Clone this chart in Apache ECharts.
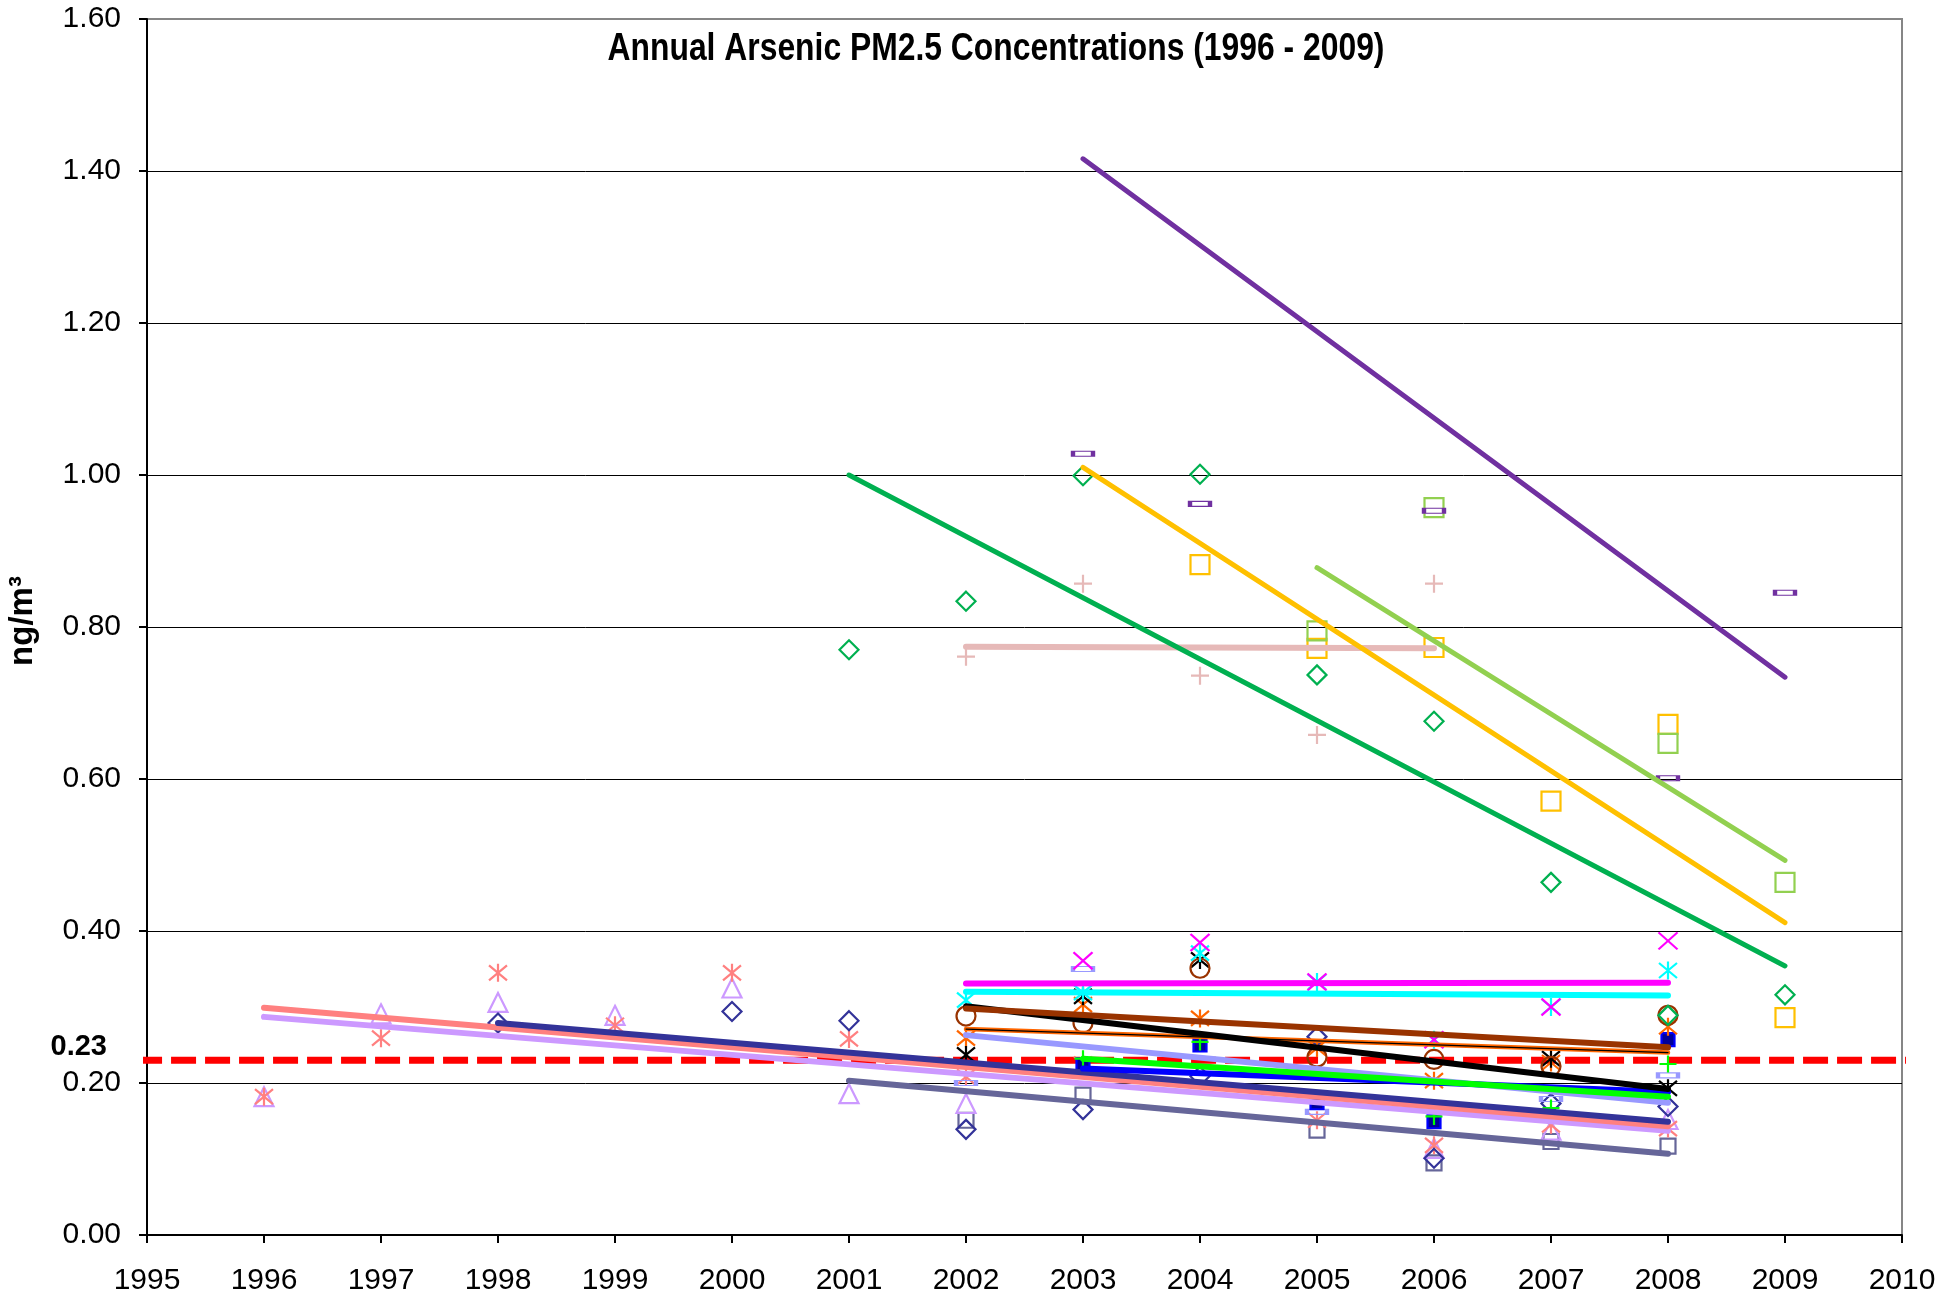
<!DOCTYPE html>
<html>
<head>
<meta charset="utf-8">
<script src="https://cdn.jsdelivr.net/npm/echarts@6/dist/echarts.min.js"></script>
<style>
html, body { margin: 0; padding: 0; background: #fff; }
#chart { width: 1956px; height: 1296px; }
</style>
</head>
<body>
<div id="chart"></div>
<script>
// axis ranges
var xRange = [1995, 2010];
var yRange = [0, 1.6];
var yStep = 0.2;
var limitValue = 0.23;

// one slot per year, null = no measurement
var years = [1996, 1997, 1998, 1999, 2000, 2001, 2002, 2003, 2004, 2005, 2006, 2007, 2008, 2009];

var salmonVals = [0.182, 0.259, 0.345, 0.276, 0.345, 0.258, 0.208, 0.225, null, 0.151, 0.118, 0.145, 0.140, null];
var lilacVals  = [0.182, 0.291, 0.306, 0.289, 0.325, 0.186, 0.173, null, null, null, 0.114, 0.138, 0.152, null];
var navyVals   = [null, null, 0.279, null, 0.294, 0.282, 0.139, 0.165, 0.209, 0.261, 0.101, 0.173, 0.169, null];
var slateVals  = [null, null, null, null, null, null, 0.151, 0.184, null, 0.138, 0.095, 0.123, 0.117, null];
var blueVals   = [null, null, null, null, null, null, null, 0.224, 0.250, 0.174, 0.149, null, 0.257, null];
var greenVals  = [null, null, null, null, null, null, null, 0.232, 0.254, null, 0.156, 0.167, 0.225, null];
var lavVals    = [null, null, null, null, null, null, 0.200, 0.350, null, 0.162, null, 0.179, 0.210, null];
var blackVals  = [null, null, null, null, null, null, 0.237, 0.314, 0.362, null, null, 0.232, 0.193, null];
var brownVals  = [null, null, null, null, null, null, 0.288, 0.279, 0.351, 0.234, 0.231, 0.222, 0.289, null];
var orangeVals = [null, null, null, null, null, null, 0.259, 0.303, 0.285, 0.246, 0.203, 0.227, 0.274, null];
var cyanVals   = [null, null, null, null, null, null, 0.309, 0.319, 0.371, 0.333, 0.257, 0.300, 0.348, null];
var magVals    = [null, null, null, null, null, null, null, 0.361, 0.385, 0.333, 0.257, 0.300, 0.387, null];
var dgreenVals = [null, null, null, null, null, 0.770, 0.834, 0.999, 1.001, 0.737, 0.676, 0.464, 0.289, 0.316];
var goldVals   = [null, null, null, null, null, null, null, null, 0.882, 0.772, 0.773, 0.571, 0.672, 0.286];
var limeVals   = [null, null, null, null, null, null, null, null, null, 0.795, 0.957, null, 0.647, 0.464];
var pinkVals   = [null, null, null, null, null, null, 0.761, 0.857, 0.736, 0.658, 0.857, null, null, null];
var purpleVals = [null, null, null, null, null, null, null, 1.028, 0.962, null, 0.953, null, 0.601, 0.845];

// linear trend lines: [start year, value], [end year, value]
var salmonTrend = [[1996, 0.299], [2008, 0.143]];
var lilacTrend  = [[1996, 0.287], [2008, 0.137]];
var navyTrend   = [[1998, 0.279], [2008, 0.149]];
var slateTrend  = [[2001, 0.203], [2008, 0.107]];
var blueTrend   = [[2003, 0.219], [2008, 0.188]];
var greenTrend  = [[2003, 0.232], [2008, 0.182]];
var lavTrend    = [[2002, 0.263], [2008, 0.174]];
var blackTrend  = [[2002, 0.301], [2008, 0.192]];
var brownTrend  = [[2002, 0.298], [2008, 0.247]];
var orangeTrend = [[2002, 0.271], [2008, 0.240]];
var cyanTrend   = [[2002, 0.320], [2008, 0.315]];
var magTrend    = [[2002, 0.331], [2008, 0.332]];
var pinkTrend   = [[2002, 0.774], [2006, 0.772]];
var dgreenTrend = [[2001, 1.000], [2009, 0.354]];
var limeTrend   = [[2005, 0.878], [2009, 0.493]];
var goldTrend   = [[2003, 1.010], [2009, 0.411]];
var purpleTrend = [[2003, 1.416], [2009, 0.734]];

// marker shapes (Excel style)
var SYM_X = 'path://M0,0L10,10M10,0L0,10';
var SYM_STAR = 'path://M0,0L10,10M10,0L0,10M5,-1L5,11';
var SYM_PLUS = 'path://M5,0L5,10M0,5L10,5';

function pts(vals) {
    var out = [];
    for (var i = 0; i < years.length; i++) {
        if (vals[i] != null) out.push([years[i], vals[i]]);
    }
    return out;
}

function markers(vals, symbol, size, color, fill) {
    return {
        type: 'scatter', z: 3, silent: true,
        symbol: symbol, symbolSize: size,
        data: pts(vals),
        itemStyle: { color: fill || 'rgba(0,0,0,0)', borderColor: color, borderWidth: 2.2, opacity: 1 }
    };
}

function trend(seg, color, width) {
    return {
        type: 'line', z: 4, silent: true, symbol: 'none',
        data: seg,
        lineStyle: { color: color, width: width || 6, cap: 'round' }
    };
}

var font = '"Liberation Sans", Arial, sans-serif';

var series = [
    // limit line
    {
        type: 'line', z: 2, silent: true, symbol: 'none', clip: false,
        data: [[xRange[0] - 0.085, limitValue], [xRange[1] + 0.085, limitValue]],
        lineStyle: { color: '#ff0000', width: 7, type: [25, 9] }
    },
    markers(slateVals, 'rect', 15, '#666699'),
    markers(lilacVals, 'triangle', 19, '#CC99FF'),
    markers(salmonVals, SYM_STAR, 18, '#FF8080'),
    markers(navyVals, 'diamond', 19, '#333399'),
    markers(lavVals, 'rect', [20, 5], '#9999FF'),
    markers(blueVals, 'rect', 13, '#0000FF', '#000099'),
    markers(greenVals, SYM_PLUS, 17, '#00FF00'),
    markers(orangeVals, SYM_STAR, 18, '#FF6600'),
    markers(blackVals, SYM_STAR, 18, '#000000'),
    markers(brownVals, 'circle', 19, '#993300'),
    markers(cyanVals, SYM_STAR, 18, '#00FFFF'),
    markers(magVals, SYM_X, [19, 17], '#FF00FF'),
    markers(pinkVals, SYM_PLUS, 18, '#E6B9B8'),
    markers(dgreenVals, 'diamond', 19, '#00B050'),
    markers(goldVals, 'rect', 19, '#FFC000'),
    markers(limeVals, 'rect', 19, '#92D050'),
    markers(purpleVals, 'rect', [20, 5], '#7030A0'),

    trend(slateTrend, '#666699'),
    trend(lilacTrend, '#CC99FF'),
    trend(salmonTrend, '#FF8080'),
    trend(navyTrend, '#333399'),
    trend(lavTrend, '#9999FF'),
    trend(blueTrend, '#0000FF'),
    trend(greenTrend, '#00FF00'),
    trend(orangeTrend, '#FF6600', 4.5),
    trend(orangeTrend, '#000000', 1.3),
    trend(blackTrend, '#000000'),
    trend(brownTrend, '#993300'),
    trend(cyanTrend, '#00FFFF'),
    trend(magTrend, '#FF00FF'),
    trend(pinkTrend, '#E6B9B8'),
    trend(dgreenTrend, '#00B050', 5),
    trend(limeTrend, '#92D050', 5),
    trend(goldTrend, '#FFC000', 5),
    trend(purpleTrend, '#7030A0', 5)
];

var chart = echarts.init(document.getElementById('chart'));
chart.setOption({
    animation: false,
    backgroundColor: '#ffffff',
    grid: {
        left: 147, right: 54, top: 19, bottom: 61,
        containLabel: false, outerBoundsMode: 'none',
        show: true, borderColor: '#868686', borderWidth: 2
    },
    xAxis: {
        type: 'value', min: xRange[0], max: xRange[1], interval: 1,
        axisLine: { show: true, onZero: false, lineStyle: { color: '#000', width: 2 } },
        axisTick: { show: true, length: 8, lineStyle: { color: '#000', width: 2 } },
        axisLabel: { color: '#000', fontSize: 30, fontFamily: font, margin: 31, formatter: function (v) { return String(v); } },
        splitLine: { show: false }
    },
    yAxis: {
        type: 'value', min: yRange[0], max: yRange[1], interval: yStep,
        name: 'ng/m³', nameLocation: 'middle', nameRotate: 90, nameGap: 108,
        nameTextStyle: { color: '#000', fontSize: 33, fontWeight: 'bold', fontFamily: font, padding: [0, 0, 0, 12] },
        axisLine: { show: true, lineStyle: { color: '#000', width: 2 } },
        axisTick: { show: true, length: 8, lineStyle: { color: '#000', width: 2 } },
        axisLabel: { color: '#000', fontSize: 30, fontFamily: font, margin: 26, formatter: function (v) { return v.toFixed(2); } },
        splitLine: { show: true, showMinLine: false, showMaxLine: false, lineStyle: { color: '#000', width: 1 } }
    },
    graphic: [
        {
            type: 'text', x: 996, y: 50, z: 10, scaleX: 0.838,
            style: {
                text: 'Annual Arsenic PM2.5 Concentrations (1996 - 2009)',
                fill: '#000', fontSize: 38, fontWeight: 'bold', fontFamily: font,
                align: 'center', verticalAlign: 'middle', textAlign: 'center', textVerticalAlign: 'middle'
            }
        },
        {
            type: 'text', x: 107, y: 1047, z: 10,
            style: {
                text: limitValue.toFixed(2),
                fill: '#000', fontSize: 29, fontWeight: 'bold', fontFamily: font,
                align: 'right', verticalAlign: 'middle', textAlign: 'right', textVerticalAlign: 'middle'
            }
        }
    ],
    series: series
});
</script>
</body>
</html>
